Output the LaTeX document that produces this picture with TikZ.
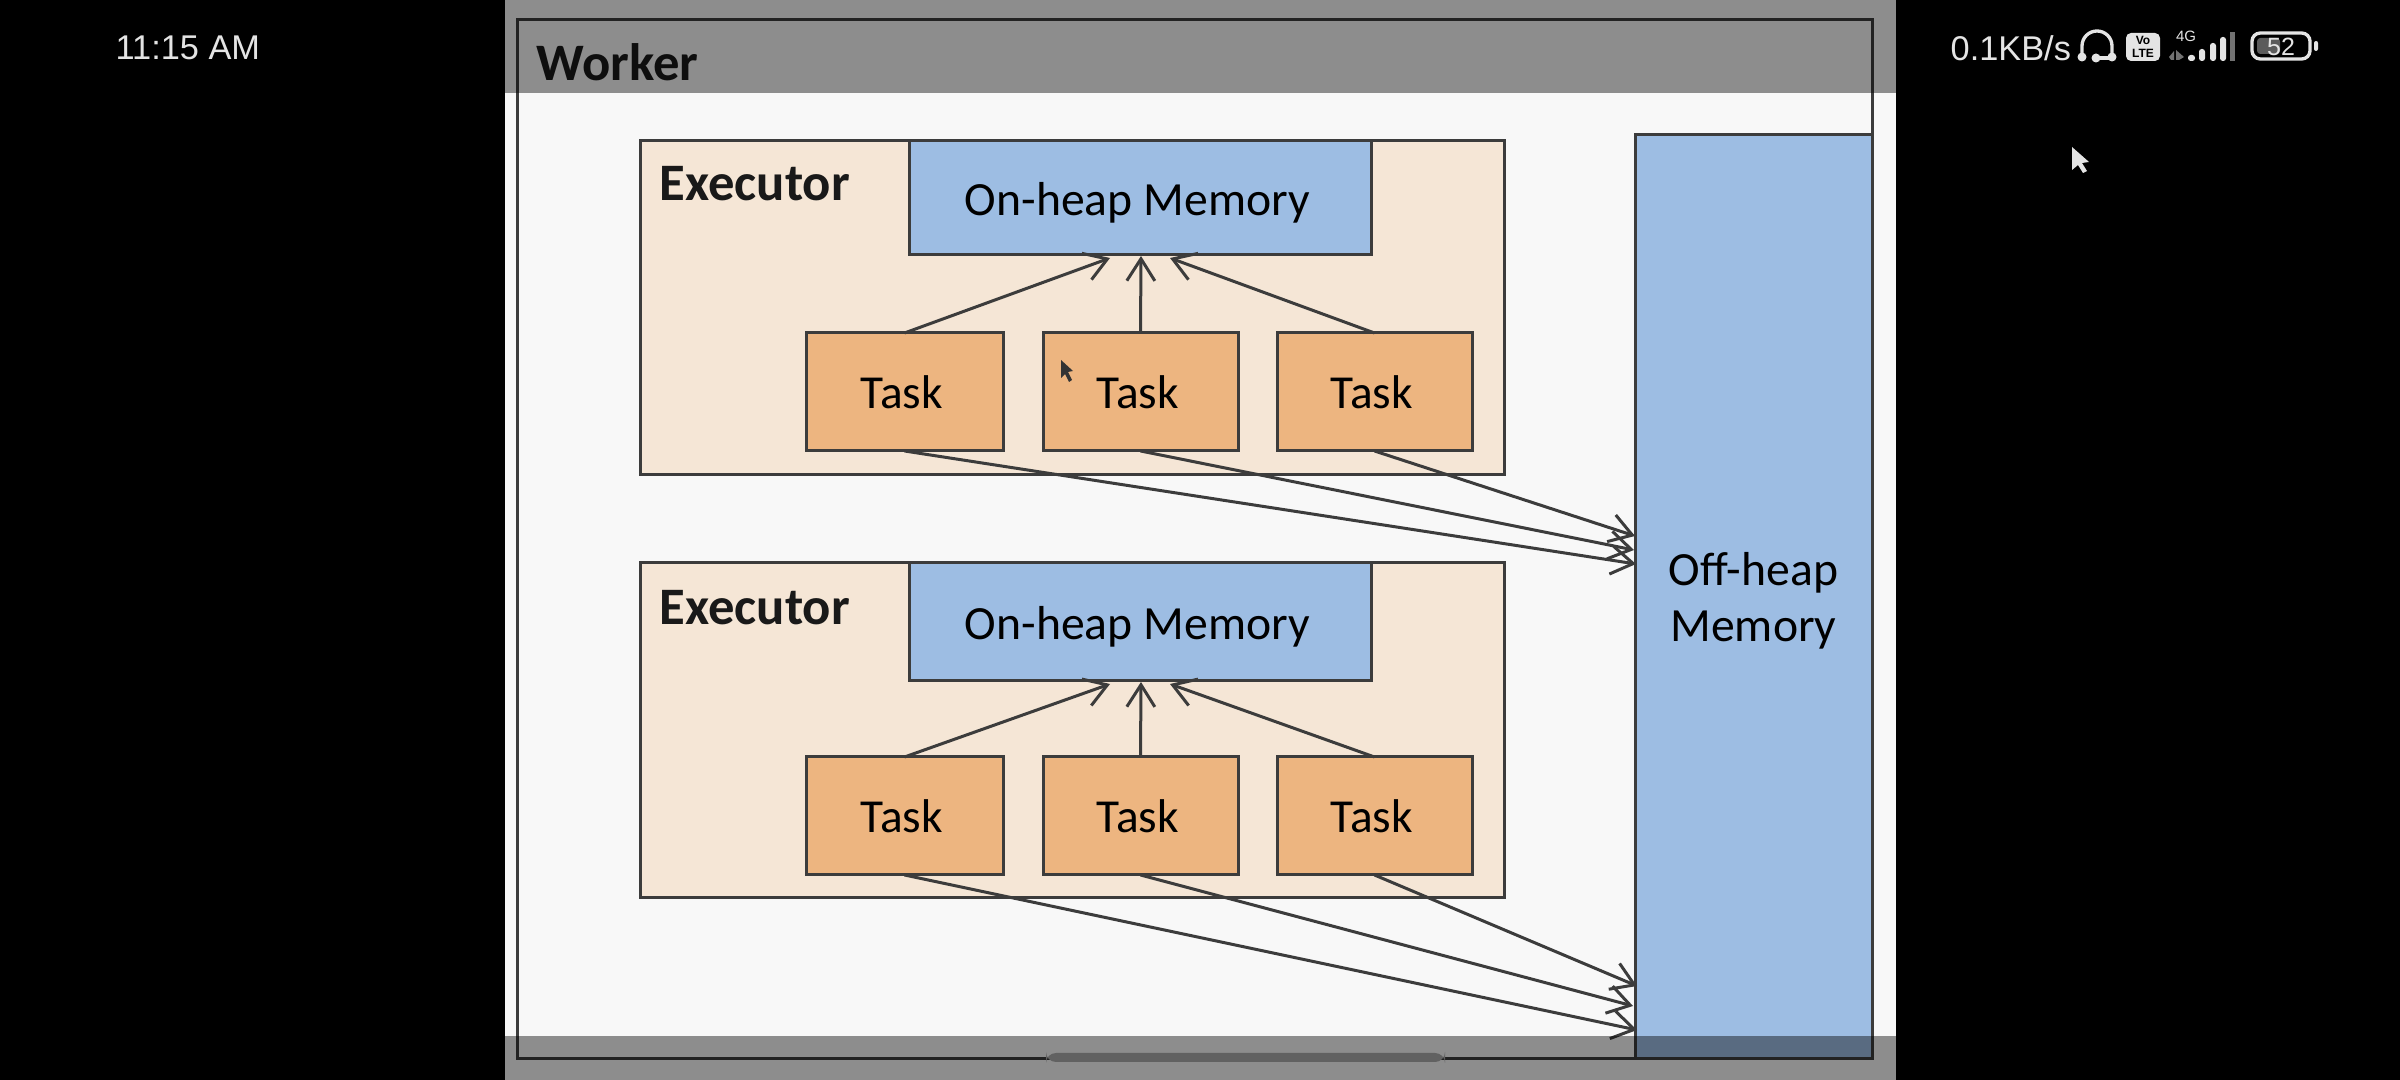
\documentclass[tikz,border=0pt]{standalone}
\usepackage{fontspec}
\setmainfont{Carlito}
\newfontfamily\statusfont{Liberation Sans}
\usetikzlibrary{arrows.meta}
\definecolor{lineC}{HTML}{3C3C3C}
\definecolor{pageC}{HTML}{F8F8F8}
\definecolor{execC}{HTML}{F5E6D6}
\definecolor{taskC}{HTML}{EDB580}
\definecolor{memC}{HTML}{9DBDE3}
\definecolor{statC}{HTML}{E4E4E4}
\newcommand\boxnode[7]{%
  \pgfmathsetmacro\bw{(#5-#3)*0.3}\pgfmathsetmacro\bh{(#6-#4)*0.3}%
  \node[#2,minimum width=\bw pt,minimum height=\bh pt] (#1) at ({(#3+#5)/2},{(#4+#6)/2}) {#7};}
\tikzset{
  px/.style={x=0.3pt,y=-0.3pt},
  boxbase/.style={draw=lineC,line width=0.9pt,inner sep=0pt,outer sep=0pt,align=center},
  workerbox/.style={boxbase},
  execbox/.style={boxbase,fill=execC},
  membox/.style={boxbase,fill=memC,font=\fontsize{14.3}{16.7}\selectfont},
  taskbox/.style={boxbase,fill=taskC,font=\fontsize{14.2}{17}\selectfont},
  title/.style={font=\bfseries\fontsize{15.8}{18}\selectfont,anchor=base west,inner sep=0pt,text=black!90},
  conn/.style={draw=lineC,line width=0.9pt,-{Straight Barb[length=6.6pt,width=8.4pt,line width=0.9pt]}},
  status/.style={font=\statusfont\fontsize{10.3}{12}\selectfont,text=statC,inner sep=0pt},
  icon/.style={draw=statC,line width=1pt,line cap=round},
  shade/.style={fill=black,fill opacity=0.43,draw=none},
}
\begin{document}
\begin{tikzpicture}[px]
\useasboundingbox (0,0) rectangle (2400,1080);
\fill[black] (0,0) rectangle (2400,1080);
\fill[pageC] (505,0) rectangle (1896,1080);
% frames
\boxnode{worker}{workerbox}{517}{20}{1872}{1059}{}
\node[title] (workerlabel) at (536,81) {Worker};
\boxnode{offheap}{membox}{1635}{135}{1872}{1059}{\rule{0pt}{12.2pt}Off-heap\\Memory}
% executor 1
\boxnode{execA}{execbox}{640}{141}{1504}{475}{}
\node[title] (execAlabel) at (659,201) {Executor};
\boxnode{memA}{membox}{909}{141}{1371}{255}{\rule{0pt}{13pt}\hspace*{-1.6pt}On-heap Memory}
\boxnode{taskAa}{taskbox}{806}{333}{1003}{451}{\hspace*{-1.6pt}Task}
\boxnode{taskAb}{taskbox}{1043}{333}{1238}{451}{\hspace*{-1.6pt}Task}
\boxnode{taskAc}{taskbox}{1277}{333}{1472}{451}{\hspace*{-1.6pt}Task}
% executor 2
\boxnode{execB}{execbox}{640}{563}{1504}{898}{}
\node[title] (execBlabel) at (659,625) {Executor};
\boxnode{memB}{membox}{909}{563}{1371}{681}{\rule{0pt}{13pt}\hspace*{-1.6pt}On-heap Memory}
\boxnode{taskBa}{taskbox}{806}{757}{1003}{875}{\hspace*{-1.6pt}Task}
\boxnode{taskBb}{taskbox}{1043}{757}{1238}{875}{\hspace*{-1.6pt}Task}
\boxnode{taskBc}{taskbox}{1277}{757}{1472}{875}{\hspace*{-1.6pt}Task}
% arrow targets
\coordinate (tAa) at (1110,258); \coordinate (tAb) at (1141,256); \coordinate (tAc) at (1170,258);
\coordinate (tBa) at (1110,684); \coordinate (tBb) at (1141,682); \coordinate (tBc) at (1170,684);
\coordinate (oAc) at (1635,536); \coordinate (oAb) at (1634,550); \coordinate (oAa) at (1636,564);
\coordinate (oBc) at (1637,986); \coordinate (oBb) at (1633,1006); \coordinate (oBa) at (1637,1030);
\foreach \n/\t in {Aa/tAa,Ab/tAb,Ac/tAc,Ba/tBa,Bb/tBb,Bc/tBc}{
  \draw[conn] (task\n.north) -- (\t);
}
\foreach \n/\t in {Aa/oAa,Ab/oAb,Ac/oAc,Ba/oBa,Bb/oBb,Bc/oBc}{
  \draw[conn] (task\n.south) -- (\t);
}
% small cursor on the slide
\fill[black!80] (1061,360) -- (1061,378) -- (1065,374) -- (1069,382) -- (1072,380) -- (1068,372) -- (1073,371) -- cycle;
% overlay bars
\fill[shade] (505,0) rectangle (1896,93);
\fill[shade] (505,1036) rectangle (1896,1080);
\fill[black!62,rounded corners=3pt] (1046,1053) rectangle (1445,1062);
% status bar
\node[status,anchor=west] (clock) at (115,48) {11:15 AM};
\node[status,anchor=west] (speed) at (1950,48) {0.1KB/s};
% headphone
\draw[icon] (2082,56) -- (2082,46) arc[start angle=180,end angle=360,radius=15] -- (2112,56);
\draw[icon] (2097,58) -- (2112,58);
\fill[statC] (2082,57) circle[radius=4.5]; \fill[statC] (2112,57) circle[radius=4.5]; \fill[statC] (2096,58) circle[radius=4.5];
% VoLTE
\fill[statC,rounded corners=1.5pt] (2126,33) rectangle (2160,61);
\node[font=\statusfont\bfseries\fontsize{3.6}{3.9}\selectfont,text=black,align=center,inner sep=0pt] (volte) at (2143,47) {Vo\\LTE};
% 4G and signal
\node[font=\statusfont\fontsize{4.5}{5}\selectfont,text=statC,inner sep=0pt] (fourg) at (2186,36) {4G};
\fill[statC!50!black] (2169,57) -- (2174,51) -- (2174,60) -- (2171,60) -- cycle;
\fill[statC!50!black] (2176,50) -- (2184,57) -- (2179,60) -- (2176,60) -- cycle;
\fill[statC,rounded corners=0.8pt] (2188,55) rectangle (2195,61);
\fill[statC,rounded corners=0.8pt] (2199,49) rectangle (2205,61);
\fill[statC,rounded corners=0.8pt] (2210,43) rectangle (2216,61);
\fill[statC,rounded corners=0.8pt] (2220,37) rectangle (2226,61);
\fill[statC!50!black] (2230,32) rectangle (2235,61);
% battery
\draw[statC,line width=1pt,rounded corners=2.5pt] (2252,33) rectangle (2310,59);
\fill[statC!40!black,rounded corners=1pt] (2257,38) rectangle (2280,54);
\node[font=\statusfont\fontsize{7.5}{8}\selectfont,text=statC,inner sep=0pt] (battery) at (2281,47) {52};
\fill[statC,rounded corners=0.6pt] (2314,41) rectangle (2318,51);
% white pointer
\fill[statC] (2072,147) -- (2072,170) -- (2078,165) -- (2083,173) -- (2087,171) -- (2082,163) -- (2089,162) -- cycle;
\end{tikzpicture}
\end{document}
